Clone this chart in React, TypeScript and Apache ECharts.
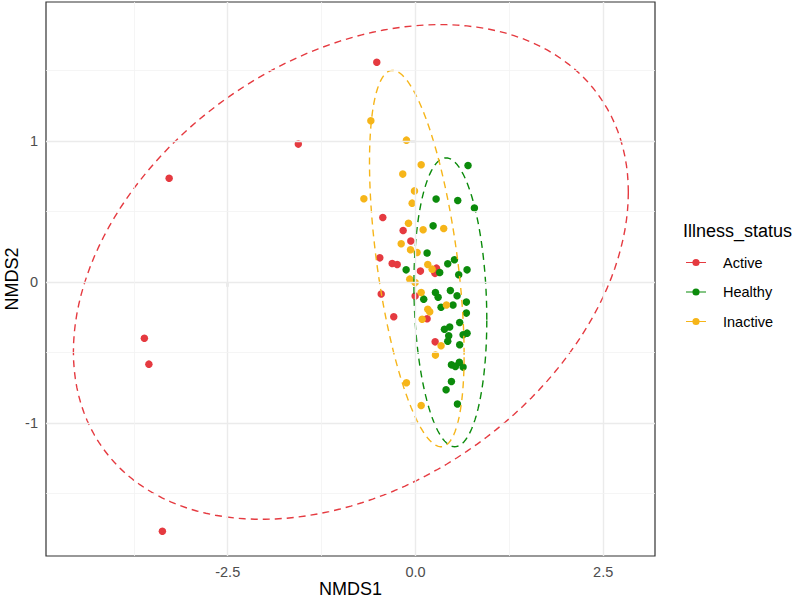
import React, { useEffect, useRef } from "react";
import * as echarts from "echarts";

// ---- data ----
const groups = ["Active", "Healthy", "Inactive"];

const activePoints: [number, number][] = [
  [-0.515, 1.558], [-1.56, 0.977], [-3.28, 0.735], [-3.61, -0.4], [-3.55, -0.584],
  [-3.37, -1.77], [-0.435, 0.456], [-0.164, 0.364], [-0.062, 0.289], [-0.475, 0.17],
  [-0.31, 0.13], [-0.243, 0.123], [0.066, 0.076], [0.28, 0.097], [0.26, 0.06],
  [-0.456, -0.087], [-0.004, -0.101], [-0.289, -0.248], [0.155, -0.262], [0.262, -0.426],
];

const healthyPoints: [number, number][] = [
  [0.7, 0.825], [0.275, 0.587], [0.563, 0.577], [0.785, 0.523], [0.235, 0.397],
  [0.155, 0.204], [-0.124, 0.085], [0.43, 0.128], [0.519, 0.156], [0.687, 0.085],
  [0.323, 0.066], [0.576, 0.05], [0.266, -0.076], [0.302, -0.109], [0.11, -0.123],
  [0.465, -0.062], [0.554, -0.099], [0.341, -0.18], [0.5, -0.165], [0.678, -0.144],
  [0.678, -0.222], [0.589, -0.289], [0.386, -0.336], [0.456, -0.321], [0.443, -0.383],
  [0.43, -0.421], [0.634, -0.376], [0.687, -0.364], [0.589, -0.447], [0.479, -0.589],
  [0.532, -0.6], [0.585, -0.57], [0.634, -0.605], [0.479, -0.707], [0.408, -0.766],
  [0.559, -0.867],
];

const inactivePoints: [number, number][] = [
  [-0.594, 1.142], [-0.12, 1.005], [0.076, 0.83], [-0.169, 0.764], [-0.687, 0.589],
  [-0.013, 0.645], [-0.044, 0.558], [-0.093, 0.416], [0.102, 0.369], [0.376, 0.378],
  [-0.19, 0.27], [-0.066, 0.227], [0.022, 0.208], [0.164, 0.123], [0.222, 0.09],
  [-0.076, 0.019], [-0.004, -0.005], [0.076, -0.076], [0.164, -0.194], [0.19, -0.213],
  [0.089, -0.265], [0.412, -0.165], [0.341, -0.454], [0.266, -0.52], [-0.12, -0.716],
  [0.076, -0.877],
];

// 95% ellipse shapes: centre and lower-triangular shape factor (data units)
const ellipseActive = { cx: -0.86, cy: 0.07, l11: 3.695, l21: 0.566, l22: 1.661 };
const ellipseHealthy = { cx: 0.465, cy: -0.145, l11: 0.485, l21: -0.124, l22: 1.017 };
const ellipseInactive = { cx: 0.018, cy: 0.165, l11: 0.63, l21: -0.683, l22: 1.147 };

const xTicks = [-2.5, 0, 2.5];
const yTicks = [-1, 0, 1];
const xMinor = [-3.75, -1.25, 1.25];
const yMinor = [-1.5, -0.5, 0.5, 1.5];
const xRange = [-4.92, 3.19];
const yRange = [-1.945, 1.985];

const colors = ["#E53A40", "#0B8B0B", "#F6B519"];
const FONT = "Liberation Sans, Arial, sans-serif";

function ellipsePath(e: { cx: number; cy: number; l11: number; l21: number; l22: number }) {
  const pts: [number, number][] = [];
  const n = 160;
  for (let i = 0; i <= n; i++) {
    const t = (2 * Math.PI * i) / n;
    pts.push([e.cx + e.l11 * Math.cos(t), e.cy + e.l21 * Math.cos(t) + e.l22 * Math.sin(t)]);
  }
  return pts;
}

const keyIcon =
  "path://M0,3.4H6.6V4.6H0Z M13.4,3.4H20V4.6H13.4Z M13.6,4A3.6,3.6 0 1 1 6.4,4A3.6,3.6 0 1 1 13.6,4Z";

export default function App() {
  const ref = useRef<HTMLDivElement>(null);
  useEffect(() => {
    if (!ref.current) return;
    const chart = echarts.init(ref.current, null, { renderer: "svg" });
    const pointSets = [activePoints, healthyPoints, inactivePoints];
    const ellipses = [ellipseActive, ellipseHealthy, ellipseInactive];

    const gridLines = [
      ...xTicks.map((v) => ({ xAxis: v })),
      ...yTicks.map((v) => ({ yAxis: v })),
      ...xMinor.map((v) => ({ xAxis: v, lineStyle: { width: 0.8, color: "#F2F2F2", type: "solid" } })),
      ...yMinor.map((v) => ({ yAxis: v, lineStyle: { width: 0.8, color: "#F2F2F2", type: "solid" } })),
    ];

    const option: any = {
      animation: false,
      backgroundColor: "#ffffff",
      grid: {
        left: 46,
        right: 145,
        top: 2,
        bottom: 45,
        show: true,
        containLabel: false,
        outerBoundsMode: "none",
        borderColor: "#333333",
        borderWidth: 1.2,
        backgroundColor: "#ffffff",
      },
      title: {
        text: "Illness_status",
        left: 683,
        top: 222,
        padding: 0,
        textStyle: { fontFamily: FONT, fontSize: 18, fontWeight: "normal", color: "#000000" },
      },
      legend: {
        orient: "vertical",
        left: 686,
        top: 255,
        itemWidth: 20,
        itemHeight: 8,
        itemGap: 14.5,
        padding: 0,
        data: groups.map((name) => ({ name, icon: keyIcon })),
        formatter: "{t|{name}}",
        textStyle: {
          fontFamily: FONT,
          fontSize: 14.5,
          color: "#000000",
          rich: { t: { padding: [0, 0, 0, 12], fontFamily: FONT, fontSize: 14.5, color: "#000000", lineHeight: 16 } },
        },
      },
      xAxis: {
        type: "value",
        min: xRange[0],
        max: xRange[1],
        splitLine: { show: false },
        axisLine: { show: false },
        axisTick: { show: true, customValues: xTicks, length: 5, lineStyle: { color: "#333333", width: 1.2 } },
        axisLabel: {
          customValues: xTicks,
          formatter: (v: number) => v.toFixed(1),
          color: "#4D4D4D",
          fontSize: 14.5,
          fontFamily: FONT,
          margin: 8,
        },
        name: "NMDS1",
        nameLocation: "middle",
        nameGap: 24,
        nameMoveOverlap: false,
        nameTextStyle: { color: "#000000", fontSize: 18, fontFamily: FONT },
      },
      yAxis: {
        type: "value",
        min: yRange[0],
        max: yRange[1],
        splitLine: { show: false },
        axisLine: { show: false },
        axisTick: { show: true, customValues: yTicks, length: 5, lineStyle: { color: "#333333", width: 1.2 } },
        axisLabel: {
          customValues: yTicks,
          formatter: (v: number) => String(v),
          color: "#4D4D4D",
          fontSize: 14.5,
          fontFamily: FONT,
          margin: 8,
        },
        name: "NMDS2",
        nameLocation: "middle",
        nameRotate: 90,
        nameGap: 25,
        nameMoveOverlap: false,
        nameTextStyle: { color: "#000000", fontSize: 18, fontFamily: FONT },
      },
      series: [
        {
          type: "scatter",
          name: "__grid",
          data: [],
          silent: true,
          z: 0,
          markLine: {
            silent: true,
            symbol: ["none", "none"],
            label: { show: false },
            emphasis: { disabled: true },
            lineStyle: { color: "#EBEBEB", width: 1.4, type: "solid" },
            data: gridLines,
          },
        },
        ...groups.map((name, i) => ({
          type: "scatter",
          name,
          data: pointSets[i],
          symbol: "circle",
          symbolSize: 7.5,
          itemStyle: { color: colors[i], opacity: 1 },
          z: 3,
          silent: true,
        })),
        ...groups.map((name, i) => ({
          type: "line",
          name,
          data: ellipsePath(ellipses[i]),
          showSymbol: false,
          symbol: "none",
          smooth: false,
          color: colors[i],
          lineStyle: { color: colors[i], width: 1.4, type: [7, 5] },
          z: 4,
          silent: true,
        })),
      ],
    };
    chart.setOption(option);
    return () => chart.dispose();
  }, []);
  return (
    <div
      ref={ref}
      style={{ position: "fixed", left: 0, top: 0, width: 800, height: 601, background: "#fff" }}
    />
  );
}
